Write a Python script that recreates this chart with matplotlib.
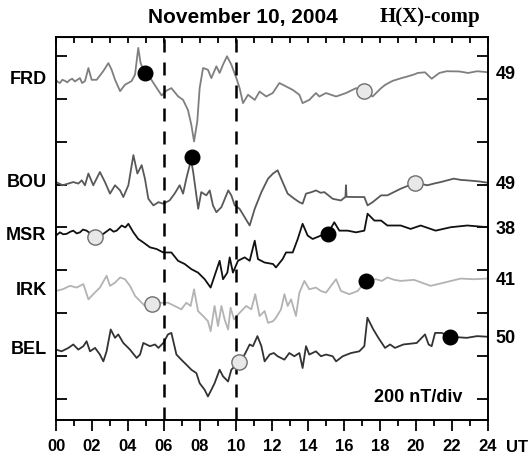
import matplotlib
matplotlib.use("Agg")
import matplotlib.pyplot as plt
import numpy as np

# H(X)-component traces, (UT hour, nT), stacked with 200 nT/div
frd = [(0, 1590), (0.1, 1580), (0.22, 1575), (0.35, 1590), (0.5, 1585), (0.62, 1578),
       (0.78, 1590), (0.9, 1595), (1.05, 1582), (1.15, 1588), (1.33, 1598), (1.45, 1575),
       (1.61, 1584), (1.8, 1645), (1.98, 1590), (2.26, 1590), (2.63, 1631), (2.91, 1668),
       (3.09, 1637), (3.28, 1590), (3.56, 1537), (3.83, 1567), (4.2, 1584), (4.39, 1614),
       (4.57, 1739), (4.7, 1668), (4.94, 1622), (5.3, 1590), (5.6, 1551), (5.87, 1517),
       (6.15, 1540), (6.41, 1551), (6.78, 1513), (7.06, 1496), (7.33, 1449), (7.52, 1379),
       (7.67, 1302), (7.85, 1396), (7.98, 1551), (8.17, 1645), (8.44, 1637), (8.63, 1598),
       (8.91, 1653), (9.09, 1622), (9.28, 1661), (9.5, 1700), (9.74, 1661), (10.02, 1598),
       (10.2, 1551), (10.39, 1481), (10.67, 1520), (11.04, 1496), (11.31, 1535), (11.68, 1512),
       (12.04, 1528), (12.41, 1575), (12.78, 1559), (13.15, 1543), (13.52, 1520), (13.7, 1481),
       (14.07, 1496), (14.44, 1528), (14.63, 1512), (15.0, 1528), (15.56, 1512), (16.11, 1528),
       (16.67, 1551), (17.13, 1537), (17.59, 1512), (18.06, 1551), (18.3, 1567), (18.7, 1585),
       (19.2, 1598), (19.5, 1605), (19.9, 1615), (20.1, 1622), (20.5, 1625), (20.87, 1595),
       (21.3, 1622), (21.7, 1630), (22.4, 1629), (22.9, 1622), (23.4, 1630), (23.9, 1626),
       (24, 1625)]

bou = [(0, 1112), (0.37, 1097), (0.96, 1112), (1.24, 1105), (1.43, 1120), (1.61, 1097),
       (1.8, 1152), (2.07, 1097), (2.44, 1159), (2.72, 1112), (3.0, 1058), (3.28, 1097),
       (3.56, 1073), (3.74, 1042), (4.02, 1097), (4.3, 1238), (4.52, 1152), (4.76, 1191),
       (4.94, 1128), (5.13, 1034), (5.41, 1003), (5.69, 1018), (5.96, 1011), (6.31, 1026),
       (6.59, 1058), (6.87, 1097), (7.06, 1058), (7.24, 1128), (7.5, 1215), (7.62, 1160),
       (7.9, 987), (8.07, 1065), (8.35, 1050), (8.54, 1073), (8.72, 1003), (8.91, 971),
       (9.19, 995), (9.57, 1073), (9.74, 1050), (9.93, 1003), (10.2, 987), (10.48, 948),
       (10.76, 909), (11.04, 987), (11.41, 1065), (11.78, 1128), (12.06, 1152), (12.31, 1167),
       (12.59, 1112), (12.87, 1058), (13.24, 1034), (13.52, 1018), (13.7, 1011), (13.89, 1058),
       (14.2, 1065), (14.44, 1073), (14.7, 1062), (14.91, 1065), (15.37, 1034), (15.83, 1026),
       (16.08, 1043), (16.11, 1097), (16.14, 1043), (16.67, 1042), (17.13, 1042), (17.31, 1003),
       (17.59, 1018), (18.06, 1050), (18.41, 1050), (19.15, 1081), (19.98, 1109), (20.63, 1097),
       (21.0, 1105), (21.37, 1112), (22.1, 1128), (22.5, 1122), (22.85, 1120), (23.5, 1115),
       (24, 1109)]

msr = [(0, 862), (0.22, 877), (0.4, 868), (0.59, 870), (0.8, 880), (0.96, 885),
       (1.15, 872), (1.33, 877), (1.5, 890), (1.7, 885), (2.17, 854), (2.63, 870),
       (3.0, 893), (3.2, 880), (3.37, 885), (3.65, 909), (3.85, 900), (4.02, 917),
       (4.3, 877), (4.57, 846), (4.85, 830), (5.22, 807), (5.59, 799), (5.96, 783),
       (6.41, 783), (6.78, 744), (7.15, 729), (7.52, 705), (7.89, 689), (8.26, 658),
       (8.59, 619), (8.81, 674), (9.09, 744), (9.28, 658), (9.52, 689), (9.65, 760),
       (9.83, 689), (10.11, 744), (10.48, 760), (10.76, 744), (11.04, 838), (11.22, 752),
       (11.59, 736), (12.06, 729), (12.22, 713), (12.59, 752), (12.78, 783), (13.15, 783),
       (13.43, 846), (13.7, 917), (13.98, 862), (14.26, 846), (14.72, 862), (15.09, 870),
       (15.46, 924), (15.74, 885), (16.2, 885), (16.67, 877), (17.13, 885), (17.31, 964),
       (17.69, 932), (18.06, 932), (18.41, 909), (19.15, 909), (19.7, 893), (20.26, 909),
       (21.09, 885), (21.93, 901), (22.85, 909), (24, 901)]

irk = [(0, 603), (0.37, 611), (0.78, 627), (1.15, 619), (1.52, 635), (1.8, 564),
       (2.07, 588), (2.44, 619), (2.81, 674), (3.0, 627), (3.28, 642), (3.56, 666),
       (3.83, 658), (4.11, 627), (4.39, 580), (4.67, 556), (4.94, 533), (5.31, 541),
       (5.78, 548), (6.22, 548), (6.59, 533), (6.96, 517), (7.24, 548), (7.48, 533),
       (7.67, 611), (7.89, 509), (8.17, 486), (8.44, 462), (8.59, 415), (8.81, 533),
       (9.0, 439), (9.19, 533), (9.37, 470), (9.56, 423), (9.7, 525), (9.89, 470),
       (10.2, 501), (10.57, 533), (10.85, 517), (11.07, 588), (11.31, 486), (11.59, 509),
       (11.78, 454), (12.06, 462), (12.22, 478), (12.5, 517), (12.69, 588), (12.87, 533),
       (13.06, 564), (13.33, 486), (13.52, 595), (13.8, 650), (14.07, 611), (14.44, 619),
       (14.72, 603), (15.0, 595), (15.28, 627), (15.56, 658), (15.83, 603), (16.3, 588),
       (16.76, 603), (17.22, 650), (17.78, 658), (18.1, 650), (18.41, 666), (18.8, 655),
       (19.15, 650), (19.89, 655), (20.81, 627), (21.56, 642), (22.48, 661), (23.2, 658),
       (24, 661)]

bel = [(0, 329), (0.31, 321), (0.69, 337), (0.96, 353), (1.24, 329), (1.52, 345),
       (1.7, 368), (1.89, 321), (2.17, 337), (2.44, 306), (2.63, 274), (2.81, 321),
       (3.04, 423), (3.28, 384), (3.46, 400), (3.74, 360), (4.11, 329), (4.48, 290),
       (4.67, 306), (4.85, 360), (5.22, 345), (5.5, 353), (5.69, 337), (5.96, 360),
       (6.22, 400), (6.41, 407), (6.69, 306), (6.96, 282), (7.24, 259), (7.52, 235),
       (7.8, 219), (7.98, 172), (8.26, 141), (8.44, 110), (8.63, 141), (8.81, 172),
       (9.09, 235), (9.28, 204), (9.56, 180), (9.74, 235), (10.2, 274), (10.48, 306),
       (10.76, 353), (10.94, 345), (11.19, 392), (11.41, 345), (11.59, 274), (11.87, 306),
       (12.1, 313), (12.31, 298), (12.69, 282), (12.96, 313), (13.24, 298), (13.52, 313),
       (13.7, 243), (13.89, 345), (14.07, 306), (14.44, 321), (14.72, 298), (15.0, 306),
       (15.37, 298), (15.56, 274), (15.93, 298), (16.39, 313), (16.85, 321), (17.13, 345),
       (17.3, 478), (17.63, 423), (17.91, 384), (18.28, 337), (18.56, 353), (18.83, 337),
       (19.3, 353), (20.04, 360), (20.5, 400), (20.7, 353), (20.87, 345), (21.06, 407),
       (21.43, 407), (21.9, 389), (22.82, 384), (23.4, 392), (24, 389)]

stations = ["FRD", "BOU", "MSR", "IRK", "BEL"]
traces = [frd, bou, msr, irk, bel]
right_labels = ["49", "49", "38", "41", "50"]
colors = ["#7f7f7f", "#595959", "#111111", "#b3b3b3", "#333333"]

# markers: (hour, nT) for black and light dots
black_dots = [(4.94, 1620), (7.55, 1230), (15.11, 870), (17.24, 650), (21.9, 389)]
light_dots = [(17.13, 1539), (19.96, 1109), (2.15, 854), (5.31, 541), (10.15, 270)]

event_lines = [6, 10]

plt.rcParams['font.family'] = ['Liberation Sans', 'DejaVu Sans']

fig = plt.figure(figsize=(5.28, 4.57), dpi=100)
ax = fig.add_axes([56 / 528, 37 / 457, 432 / 528, 383 / 457])

for name, tr, rl, c in zip(stations, traces, right_labels, colors):
    t, v = zip(*tr)
    ax.plot(t, v, color=c, lw=1.3, zorder=2)
    ax.text(-0.022, v[0], name, transform=ax.get_yaxis_transform(),
            ha='right', va='center', fontsize=13, fontweight='bold')
    ax.text(1.018, v[-1] - 10, rl, transform=ax.get_yaxis_transform(),
            ha='left', va='center', fontsize=13, fontweight='bold')

for x in event_lines:
    ax.axvline(x, color='black', lw=1.8, ls=(0, (5.2, 4)), zorder=3)

bx, by = zip(*black_dots)
ax.plot(bx, by, 'o', ms=10.5, mfc='black', mec='black', zorder=4)
lx, ly = zip(*light_dots)
ax.plot(lx, ly, 'o', ms=11, mfc='#e8e8e8', mec='#6e6e6e', mew=1, zorder=4)

ax.set_xlim(0, 24)
ax.set_ylim(0, 1790)
ax.set_xticks(np.arange(0, 25, 2))
ax.set_xticklabels(["%02d" % h for h in range(0, 25, 2)], fontsize=12, fontweight='bold')
ax.set_xticks(np.arange(0, 25, 1), minor=True)
ax.tick_params(axis='x', which='major', direction='out', length=8, width=1.3, pad=6)
ax.tick_params(axis='x', which='minor', direction='out', length=4.5, width=1.3)
ax.set_yticks(np.arange(100, 1800, 200))
ax.tick_params(axis='y', which='both', direction='in', length=8, width=1.3,
               left=True, right=True, labelleft=False)

top = ax.secondary_xaxis('top')
top.set_xticks(np.arange(0, 25, 1))
top.tick_params(direction='in', length=4.5, width=1.3, labeltop=False)

for s in ax.spines.values():
    s.set_linewidth(1.4)

fig.text(243 / 528, 1 - 17 / 457, "November 10, 2004", ha='center', va='center',
         fontsize=15, fontweight='bold')
fig.text(380 / 528, 1 - 17 / 457, "H(X)-comp", ha='left', va='center',
         fontsize=15, fontweight='bold', family='Liberation Serif')
ax.text(0.94, 0.06, "200 nT/div", transform=ax.transAxes, ha='right', va='center',
        fontsize=13, fontweight='bold')
fig.text(506 / 528, 1 - 448 / 457, "UT", ha='left', va='center', fontsize=12,
         fontweight='bold')

fig.savefig("out.png", dpi=100)
